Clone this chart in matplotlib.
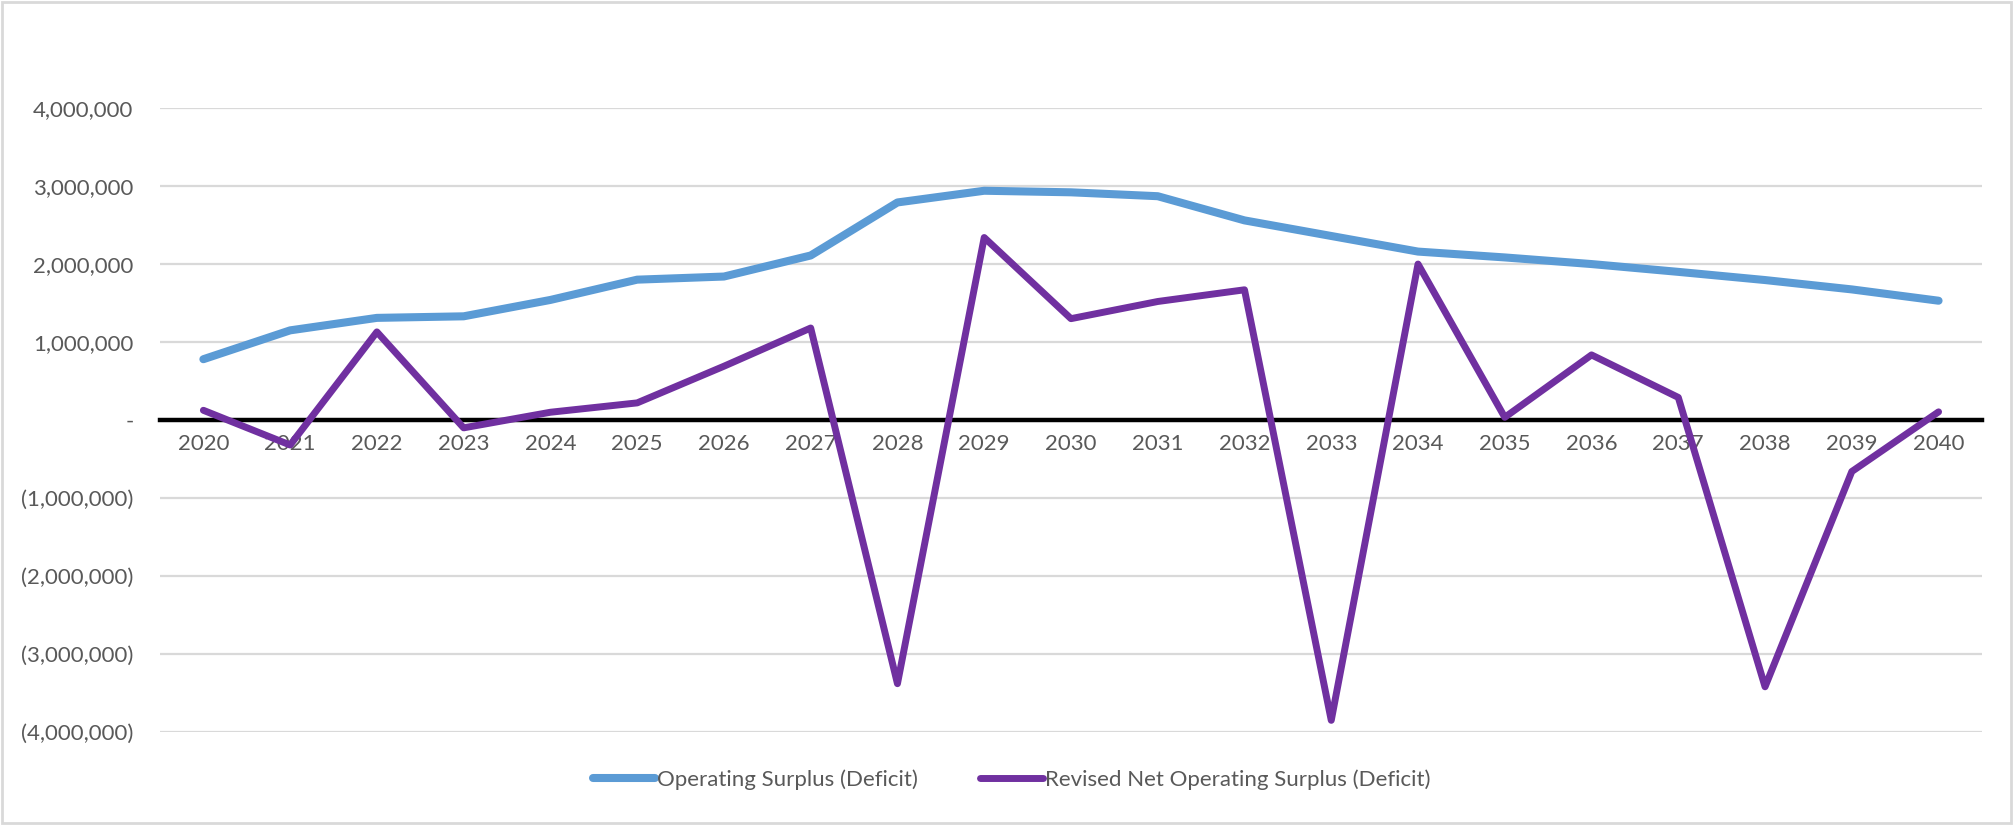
import numpy as np
import matplotlib.pyplot as plt
from matplotlib.patches import Rectangle
from matplotlib.ticker import FuncFormatter

plt.rcParams['font.family'] = ['Lato', 'DejaVu Sans']

years = [str(y) for y in range(2020, 2041)]
operating = [780000, 1150000, 1310000, 1330000, 1540000, 1800000, 1840000,
             2110000, 2790000, 2940000, 2920000, 2870000, 2560000, 2360000,
             2160000, 2085000, 2000000, 1900000, 1795000, 1675000, 1530000]
revised = [125000, -320000, 1130000, -100000, 100000, 220000, 690000,
           1180000, -3380000, 2340000, 1300000, 1520000, 1670000, -3850000,
           2000000, 35000, 835000, 290000, -3420000, -660000, 105000]
yticks = [-4000000, -3000000, -2000000, -1000000, 0,
          1000000, 2000000, 3000000, 4000000]

def fmt(v, pos=None):
    if v == 0:
        return "-"
    if v < 0:
        return "({:,.0f})".format(-v)
    return "{:,.0f}".format(v)

fig = plt.figure(figsize=(20.15, 8.25), dpi=100)
ax = fig.add_axes([0.0794, 0.1127, 0.9042, 0.7563])

x = np.arange(len(years))
ax.plot(x, operating, color='#5B9BD5', lw=5.8, solid_capstyle='round',
        solid_joinstyle='round', label='Operating Surplus (Deficit)', zorder=3)
ax.plot(x, revised, color='#7030A0', lw=5.0, solid_capstyle='round',
        solid_joinstyle='round', label='Revised Net Operating Surplus (Deficit)', zorder=4)

ax.set_xlim(-0.5, len(years) - 0.5)
ax.set_ylim(-4000000, 4000000)
ax.set_yticks(yticks)
ax.yaxis.set_major_formatter(FuncFormatter(fmt))
ax.set_xticks(x)
ax.set_xticklabels(years)
ax.grid(axis='y', color='#D9D9D9', lw=1.6, zorder=0)
ax.set_axisbelow(True)

for s in ['top', 'right', 'left']:
    ax.spines[s].set_visible(False)
ax.spines['bottom'].set_position(('data', 0))
ax.spines['bottom'].set_color('black')
ax.spines['bottom'].set_linewidth(3.2)
ax.spines['bottom'].set_zorder(2)

ax.tick_params(axis='both', length=0, labelsize=16, labelcolor='#595959')
ax.tick_params(axis='y', pad=19)
ax.tick_params(axis='x', pad=10)

fig.legend(loc='center', bbox_to_anchor=(0.502, 0.055), ncol=2, frameon=False,
           fontsize=16, handlelength=2.8, handletextpad=0.1, columnspacing=2.8,
           labelcolor='#595959')

fig.patches.append(Rectangle((0.001, 0.002), 0.997, 0.995, transform=fig.transFigure,
                             fill=False, edgecolor='#D9D9D9', lw=2))

fig.savefig('out.png', dpi=100)
